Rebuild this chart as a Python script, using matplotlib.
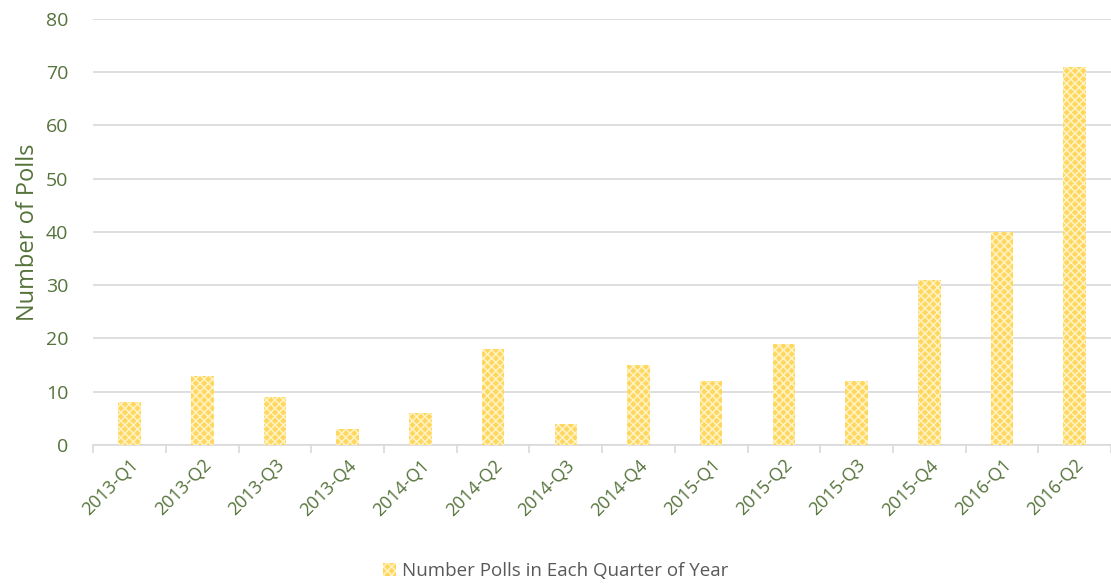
import matplotlib.pyplot as plt
import numpy as np

# quarterly poll counts
quarters = ['2013-Q1', '2013-Q2', '2013-Q3', '2013-Q4',
            '2014-Q1', '2014-Q2', '2014-Q3', '2014-Q4',
            '2015-Q1', '2015-Q2', '2015-Q3', '2015-Q4',
            '2016-Q1', '2016-Q2']
polls = [8, 13, 9, 3, 6, 18, 4, 15, 12, 19, 12, 31, 40, 71]
series_name = 'Number Polls in Each Quarter of Year'

green = '#55733a'
grey = '#d9d9d9'

plt.rcParams['font.family'] = ['Open Sans', 'DejaVu Sans']
plt.rcParams['hatch.color'] = '#fff3c4'
plt.rcParams['hatch.linewidth'] = 1.1

fig = plt.figure(figsize=(11.11, 5.84), dpi=100)
ax = fig.add_axes([0.084, 0.238, 0.916, 0.73])

x = np.arange(len(quarters))
bars = ax.bar(x, polls, width=0.31, color='#ffd75e', hatch='xxxx',
              linewidth=0, label=series_name, zorder=3)

ax.set_xlim(-0.5, len(quarters) - 0.5)
ax.set_ylim(0, 80)
ax.set_yticks(range(0, 81, 10))
ax.yaxis.grid(True, color=grey, linewidth=1.2, zorder=0)
ax.tick_params(axis='y', length=0, labelsize=14, labelcolor=green, pad=18)

# category labels at centres, tick marks between categories
ax.set_xticks(x)
ax.set_xticklabels(quarters, rotation=45, ha='right', rotation_mode='anchor')
ax.tick_params(axis='x', which='major', length=0, labelsize=13, labelcolor=green, pad=8)
ax.set_xticks(np.arange(-0.5, len(quarters), 1), minor=True)
ax.tick_params(axis='x', which='minor', length=6, color=grey, width=1.2)

for s in ['top', 'right', 'left']:
    ax.spines[s].set_visible(False)
ax.spines['bottom'].set_color(grey)
ax.spines['bottom'].set_linewidth(1.2)

ax.set_ylabel('Number of Polls', color=green, fontsize=17, labelpad=4)

fig.legend(handles=[bars], labels=[series_name], loc='center',
           bbox_to_anchor=(0.5, 0.022), frameon=False, fontsize=13.5,
           labelcolor='#595959', handlelength=0.7, handleheight=0.7,
           handletextpad=0.3)

fig.savefig('out.png', dpi=100)
